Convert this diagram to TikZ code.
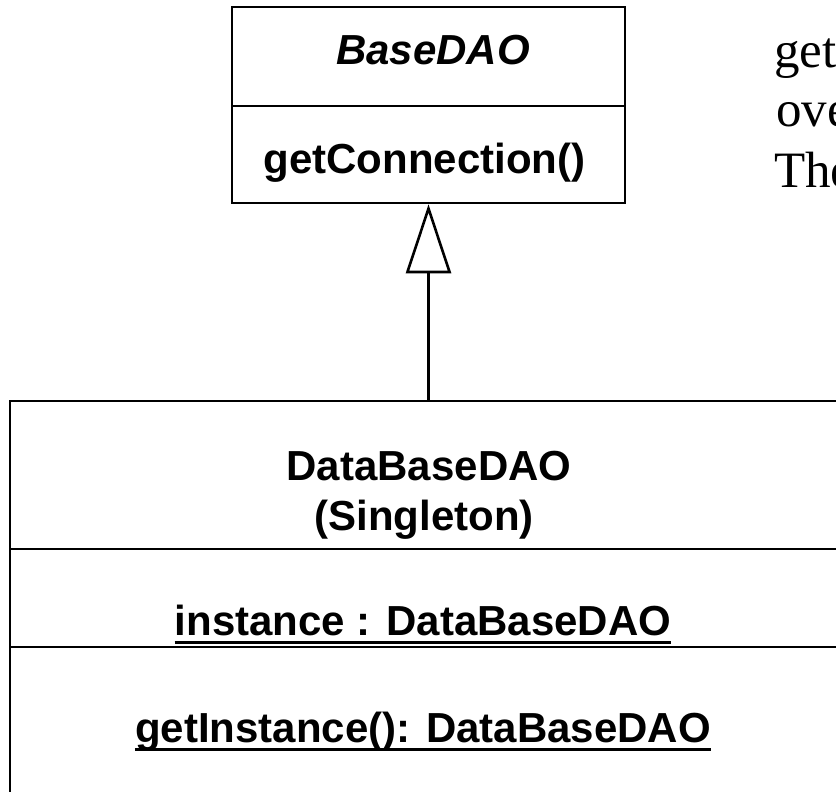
\documentclass[tikz,border=0pt]{standalone}
\usepackage{fontspec}
\newfontfamily\umlfont{Liberation Sans}
\newfontfamily\notefont{Liberation Serif}
\usetikzlibrary{arrows.meta}
\begin{document}
\begin{tikzpicture}[x=1pt,y=-1pt,
  compartment/.style={draw, line width=2.6pt, rectangle, inner sep=0pt},
  umltext/.style={font=\umlfont\bfseries\fontsize{42}{48}\selectfont, inner sep=0pt, anchor=base},
  notetext/.style={font=\notefont\fontsize{51}{60}\selectfont, inner sep=0pt, anchor=base west},
  underline/.style={line width=3pt},
  generalization/.style={line width=2.6pt, -{Triangle[open, length=69pt, width=45pt]}}]
\clip (0,0) rectangle (836,792);
\fill[white] (0,0) rectangle (836,792);

% abstract base class
\node[compartment, minimum width=393pt, minimum height=99pt] (basename) at (428.5,56.5) {};
\node[compartment, minimum width=393pt, minimum height=97pt] (baseops) at (428.5,154.5) {};
\node[umltext, font=\umlfont\bfseries\itshape\fontsize{42}{48}\selectfont] (basetitle) at (433,65) {BaseDAO};
\node[umltext] (baseop) at (424.5,173) {getConnection()};

% singleton subclass
\node[compartment, minimum width=840pt, minimum height=148pt] (subname) at (430,475) {};
\node[compartment, minimum width=840pt, minimum height=98pt] (subattr) at (430,598) {};
\node[compartment, minimum width=840pt, minimum height=200pt] (subops) at (430,747) {};
\node[umltext] (subtitle) at (429,480) {DataBaseDAO};
\node[umltext] (substereo) at (424,530) {(Singleton)};
\node[umltext] (attr) at (423,635) {instance : DataBaseDAO};
\draw[underline] ([yshift=-7pt]attr.base west) -- ([yshift=-7pt]attr.base east);
\node[umltext] (op) at (423,742) {getInstance(): DataBaseDAO};
\draw[underline] ([yshift=-7pt]op.base west) -- ([yshift=-7pt]op.base east);

% inheritance
\draw[generalization] (baseops.south |- subname.north) -- (baseops.south);

% side note
\node[notetext] (n1) at (774,67) {get};
\node[notetext] (n2) at (776,127) {ove};
\node[notetext] (n3) at (774,187) {The};
\end{tikzpicture}
\end{document}
